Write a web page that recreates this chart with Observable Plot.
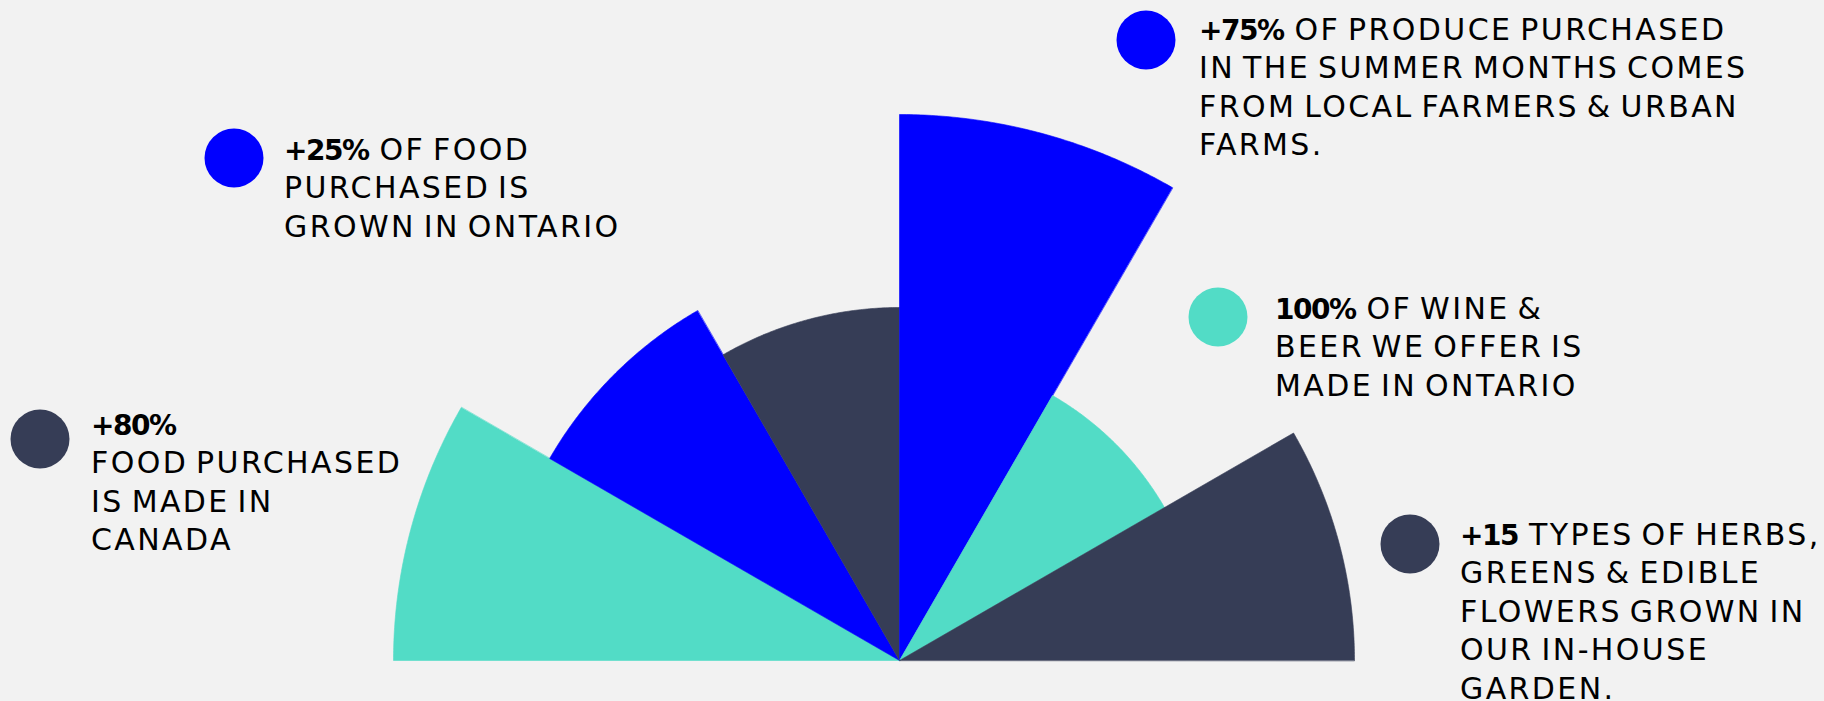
<!DOCTYPE html>
<html><head><meta charset="utf-8">
<script src="https://cdn.jsdelivr.net/npm/d3@7"></script>
<script src="https://cdn.jsdelivr.net/npm/@observablehq/plot@0.6"></script>
<style>
html,body{margin:0;padding:0;background:#f2f2f2;}
#wrap{position:relative;width:1824px;height:701px;overflow:hidden;background:#f2f2f2;}
#wrap svg{position:absolute;left:0;top:0;}
</style></head><body><div id="wrap"></div>
<script>
// Wedges, left (180°) to right (0°), each 30° wide
const wedgeIds = ["w1", "w2", "w3", "w4", "w5", "w6"];
const wedgeRadius = [506, 404, 353, 546, 306, 455];
const wedgeGroup = ["teal", "blue", "dark", "blue", "teal", "dark"];

// Colour groups
const groupNames = ["blue", "teal", "dark"];
const groupColors = ["#0000ff", "#52dcc6", "#363d56"];

// Annotations
const noteBold = ["+25%", "+80%", "+75%", "100%", "+15"];
const noteFirstRest = ["OF FOOD", "", "OF PRODUCE PURCHASED", "OF WINE &", "TYPES OF HERBS,"];
const noteMoreLines = [
  ["PURCHASED IS", "GROWN IN ONTARIO"],
  ["FOOD PURCHASED", "IS MADE IN", "CANADA"],
  ["IN THE SUMMER MONTHS COMES", "FROM LOCAL FARMERS & URBAN", "FARMS."],
  ["BEER WE OFFER IS", "MADE IN ONTARIO"],
  ["GREENS & EDIBLE", "FLOWERS GROWN IN", "OUR IN-HOUSE", "GARDEN."]
];
const noteGroup = ["blue", "dark", "blue", "teal", "dark"];

// Layout of annotations (pixels)
const noteLayout = [
  {cx: 234, cy: 158, tx: 284, ty: 160},
  {cx: 40, cy: 439, tx: 91, ty: 435},
  {cx: 1146, cy: 40, tx: 1199, ty: 40},
  {cx: 1218, cy: 317, tx: 1275, ty: 319},
  {cx: 1410, cy: 544, tx: 1460, ty: 545}
];

const W = 1824, H = 701;
const colorOf = g => groupColors[groupNames.indexOf(g)];

// build wedge outlines from the radii
const pts = [];
wedgeIds.forEach((id, i) => {
  const a0 = Math.PI - i * Math.PI / 6, a1 = Math.PI - (i + 1) * Math.PI / 6;
  pts.push({id, group: wedgeGroup[i], x: 0, y: 0});
  const n = 80;
  for (let k = 0; k <= n; k++) {
    const a = a0 + (a1 - a0) * k / n;
    pts.push({id, group: wedgeGroup[i], x: wedgeRadius[i] * Math.cos(a), y: wedgeRadius[i] * Math.sin(a)});
  }
});

const chart = Plot.plot({
  width: W, height: H,
  marginLeft: 0, marginRight: 0, marginTop: 0, marginBottom: 41,
  x: {domain: [-899, 925], axis: null},
  y: {domain: [0, 660], axis: null},
  color: {domain: groupNames, range: groupColors},
  style: {background: "transparent"},
  marks: [
    Plot.line(pts, {x: "x", y: "y", z: "id", fill: "group", stroke: "group", strokeWidth: 0.6, curve: "linear-closed"})
  ]
});
document.getElementById("wrap").appendChild(chart);

// annotation layer
const svg = d3.select("#wrap").append("svg").attr("width", W).attr("height", H);
noteBold.forEach((b, i) => {
  const L = noteLayout[i];
  svg.append("circle").attr("cx", L.cx).attr("cy", L.cy).attr("r", 29.5).attr("fill", colorOf(noteGroup[i]));
  const t = svg.append("text").attr("x", L.tx).attr("y", L.ty)
    .attr("font-family", "'DejaVu Sans', sans-serif").attr("font-size", 30).attr("fill", "#000")
    .style("letter-spacing", "2.4px").style("word-spacing", "-4px");
  t.append("tspan").attr("font-weight", 700).attr("font-size", 28).style("letter-spacing", "-1.5px").text(b);
  if (noteFirstRest[i]) t.append("tspan").attr("dx", 11).text(noteFirstRest[i]);
  noteMoreLines[i].forEach((line, j) => {
    t.append("tspan").attr("x", L.tx).attr("y", L.ty + 38.4 * (j + 1)).text(line);
  });
});
</script>
</body></html>
